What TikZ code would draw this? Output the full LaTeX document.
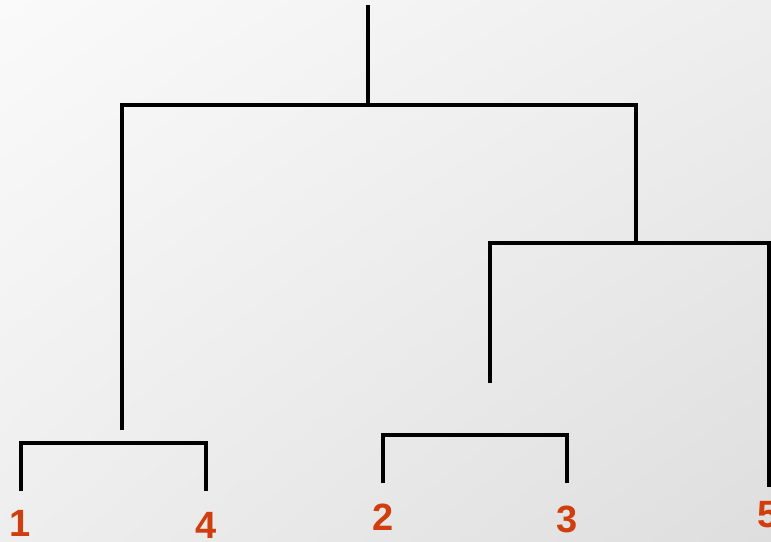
\documentclass[tikz,border=0pt]{standalone}
\usepackage{fontspec}
\setmainfont{Liberation Sans}
\usetikzlibrary{shadings}
\definecolor{lbl}{RGB}{208,62,14}
\definecolor{bgA}{RGB}{250,250,250}
\definecolor{bgB}{RGB}{238,238,238}
\definecolor{bgC}{RGB}{222,222,222}
\tikzset{
  branch/.style={line width=4pt, line join=miter, line cap=butt, black},
  leaf/.style={text=lbl, font=\fontsize{38}{42}\selectfont\bfseries, inner sep=0pt, anchor=center}
}
\begin{document}
\begin{tikzpicture}[x=1pt,y=-1pt]
\shade[upper left=bgA, upper right=bgB, lower left=bgB, lower right=bgC] (0,0) rectangle (771,541);
\useasboundingbox (0,0) rectangle (771,541);
% coordinates
\coordinate (root) at (368,5);
\coordinate (rj) at (368,105);
\coordinate (lA) at (122,105);
\coordinate (rA) at (636,105);
\coordinate (lEnd) at (122,430);
\coordinate (rB) at (636,243);
\coordinate (bL) at (490,243);
\coordinate (bR) at (769,243);
\coordinate (bEnd) at (490,383);
\coordinate (c14L) at (21,443);
\coordinate (c14R) at (206,443);
\coordinate (l1) at (21,491);
\coordinate (l4) at (206,491);
\coordinate (c23L) at (383,435);
\coordinate (c23R) at (567,435);
\coordinate (l2) at (383,483);
\coordinate (l3) at (567,483);
\coordinate (l5) at (769,487);
% branches
\draw[branch] (root) -- (rj);
\draw[branch] (lEnd) -- (lA) -- (rA) -- (rB);
\draw[branch] (bEnd) -- (bL) -- (bR) -- (l5);
\draw[branch] (l1) -- (c14L) -- (c14R) -- (l4);
\draw[branch] (l2) -- (c23L) -- (c23R) -- (l3);
% labels
\node[leaf] (n1) at (20,523) {1};
\node[leaf] (n4) at (206,525) {4};
\node[leaf] (n2) at (383,517) {2};
\node[leaf] (n3) at (567,519) {3};
\node[leaf] (n5) at (768,515) {5};
\end{tikzpicture}
\end{document}
